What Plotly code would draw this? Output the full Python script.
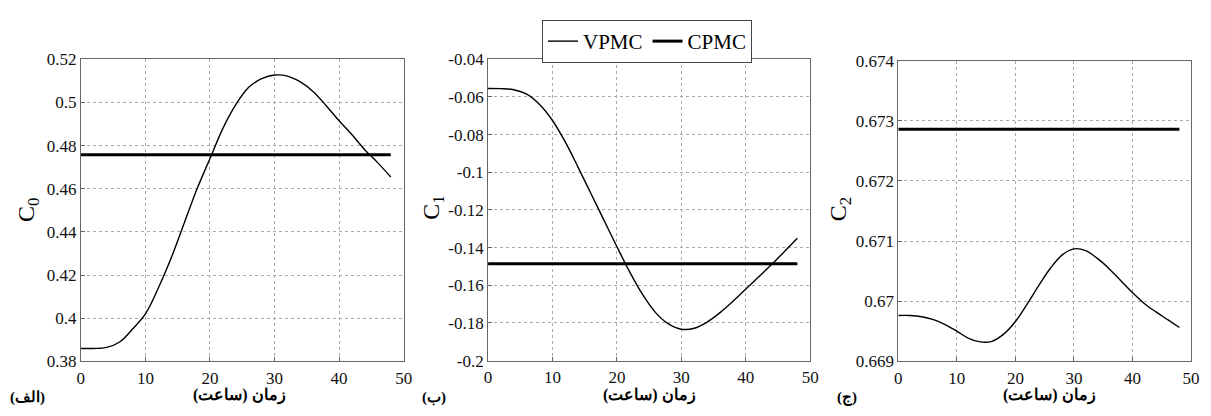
import plotly.graph_objects as go

W, H = 1211, 416

# ---- data ----
t = [0, 2, 4, 6, 8, 10, 12, 14, 16, 18, 20, 22, 24, 26, 28, 30, 32, 34, 36, 38, 40, 42, 44, 46, 48]
c0_vpmc = [0.386, 0.386, 0.3865, 0.389, 0.395, 0.402, 0.414, 0.428, 0.444, 0.460, 0.474, 0.488, 0.499, 0.507, 0.511, 0.5127, 0.5122, 0.5095, 0.505, 0.4985, 0.4915, 0.485, 0.478, 0.472, 0.4655]
c0_cpmc = 0.4758
c1_vpmc = [-0.0555, -0.0556, -0.0562, -0.0585, -0.0640, -0.0725, -0.0840, -0.0975, -0.1115, -0.1255, -0.1395, -0.1530, -0.1650, -0.1745, -0.1805, -0.1833, -0.1828, -0.1795, -0.1745, -0.1685, -0.1620, -0.1555, -0.1490, -0.1420, -0.1350]
c1_cpmc = -0.1485
c2_vpmc = [0.66976, 0.66976, 0.66974, 0.66969, 0.66961, 0.66950, 0.66938, 0.66932, 0.66933, 0.66945, 0.66966, 0.66995, 0.67026, 0.67055, 0.67077, 0.67087, 0.67084, 0.67071, 0.67054, 0.67034, 0.67014, 0.66996, 0.66982, 0.66969, 0.66956]
c2_cpmc = 0.67286

x_ticks = [0, 10, 20, 30, 40, 50]
y_ticks_0 = [0.38, 0.40, 0.42, 0.44, 0.46, 0.48, 0.50, 0.52]
y_tick_text_0 = ["0.38", "0.4", "0.42", "0.44", "0.46", "0.48", "0.5", "0.52"]
y_ticks_1 = [-0.2, -0.18, -0.16, -0.14, -0.12, -0.1, -0.08, -0.06, -0.04]
y_tick_text_1 = ["-0.2", "-0.18", "-0.16", "-0.14", "-0.12", "-0.1", "-0.08", "-0.06", "-0.04"]
y_ticks_2 = [0.669, 0.670, 0.671, 0.672, 0.673, 0.674]
y_tick_text_2 = ["0.669", "0.67", "0.671", "0.672", "0.673", "0.674"]

x_title = "زمان (ساعت)"
panel_labels = ["(الف)", "(ب)", "(ج)"]
y_titles = ["C<sub>0</sub>", "C<sub>1</sub>", "C<sub>2</sub>"]

# ---- layout geometry (pixels) ----
panels = [
    dict(x0=77.7, x1=404.0, y0=52.7, y1=369.3),
    dict(x0=489.3, x1=815.0, y0=52.7, y1=368.5),
    dict(x0=904.0, x1=1200.0, y0=54.3, y1=369.0),
]
ytitle_x = [25, 433, 845]
ytitle_y = [211, 208, 210]
xtitle_x = [238, 653, 1057]
plabel_x = [24, 435, 852]

FONT = "Liberation Serif"
fig = go.Figure()

vp = [c0_vpmc, c1_vpmc, c2_vpmc]
cp = [c0_cpmc, c1_cpmc, c2_cpmc]
yts = [(y_ticks_0, y_tick_text_0), (y_ticks_1, y_tick_text_1), (y_ticks_2, y_tick_text_2)]

for i in range(3):
    xa = "x" if i == 0 else f"x{i+1}"
    ya = "y" if i == 0 else f"y{i+1}"
    fig.add_trace(go.Scatter(x=t, y=vp[i], mode="lines", line=dict(color="black", width=1.4, shape="spline"),
                             name="VPMC", showlegend=(i == 0), xaxis=xa, yaxis=ya))
    fig.add_trace(go.Scatter(x=[t[0], t[-1]], y=[cp[i], cp[i]], mode="lines", line=dict(color="black", width=3),
                             name="CPMC", showlegend=(i == 0), xaxis=xa, yaxis=ya))
    p = panels[i]
    axis_common = dict(showline=True, linecolor="#666", linewidth=1, mirror=True,
                       showgrid=True, gridcolor="#aaa", griddash="dot", gridwidth=1,
                       ticks="inside", ticklen=4, tickcolor="#666", zeroline=False,
                       tickfont=dict(family=FONT, size=17, color="#111"))
    xkey = "xaxis" if i == 0 else f"xaxis{i+1}"
    ykey = "yaxis" if i == 0 else f"yaxis{i+1}"
    fig.update_layout(**{
        xkey: dict(domain=[p["x0"] / W, p["x1"] / W], range=[0, 50], tickvals=x_ticks,
                   anchor=ya, ticklabelstandoff=1, **axis_common),
        ykey: dict(domain=[1 - p["y1"] / H, 1 - p["y0"] / H], range=[yts[i][0][0], yts[i][0][-1]],
                   tickvals=yts[i][0], ticktext=yts[i][1], anchor=xa, ticklabelstandoff=0, **axis_common),
    })
    fig.add_annotation(x=ytitle_x[i] / W, y=1 - ytitle_y[i] / H, xref="paper", yref="paper", text=y_titles[i],
                       textangle=-90, showarrow=False, xanchor="center", yanchor="middle",
                       font=dict(family=FONT, size=24, color="black"))
    fig.add_annotation(x=xtitle_x[i] / W, y=1 - 405 / H, xref="paper", yref="paper", text="<b>" + x_title + "</b>",
                       showarrow=False, xanchor="center", yanchor="middle", borderpad=0,
                       font=dict(family=FONT, size=16, color="black"))
    fig.add_annotation(x=plabel_x[i] / W, y=1 - 407 / H, xref="paper", yref="paper", text="<b>" + panel_labels[i] + "</b>",
                       showarrow=False, xanchor="center", yanchor="middle", borderpad=0,
                       font=dict(family=FONT, size=15, color="black"))

fig.update_layout(
    width=W, height=H, margin=dict(l=0, r=0, t=0, b=0),
    paper_bgcolor="white", plot_bgcolor="white",
    font=dict(family=FONT, size=17, color="black"),
    legend=dict(orientation="h", x=650 / W, y=1 - 11.5 / H, xanchor="center", yanchor="top",
                bordercolor="#444", borderwidth=1, bgcolor="white",
                font=dict(family=FONT, size=21, color="black"), itemwidth=30,
                tracegroupgap=0),
)

fig.write_html("out.html")
